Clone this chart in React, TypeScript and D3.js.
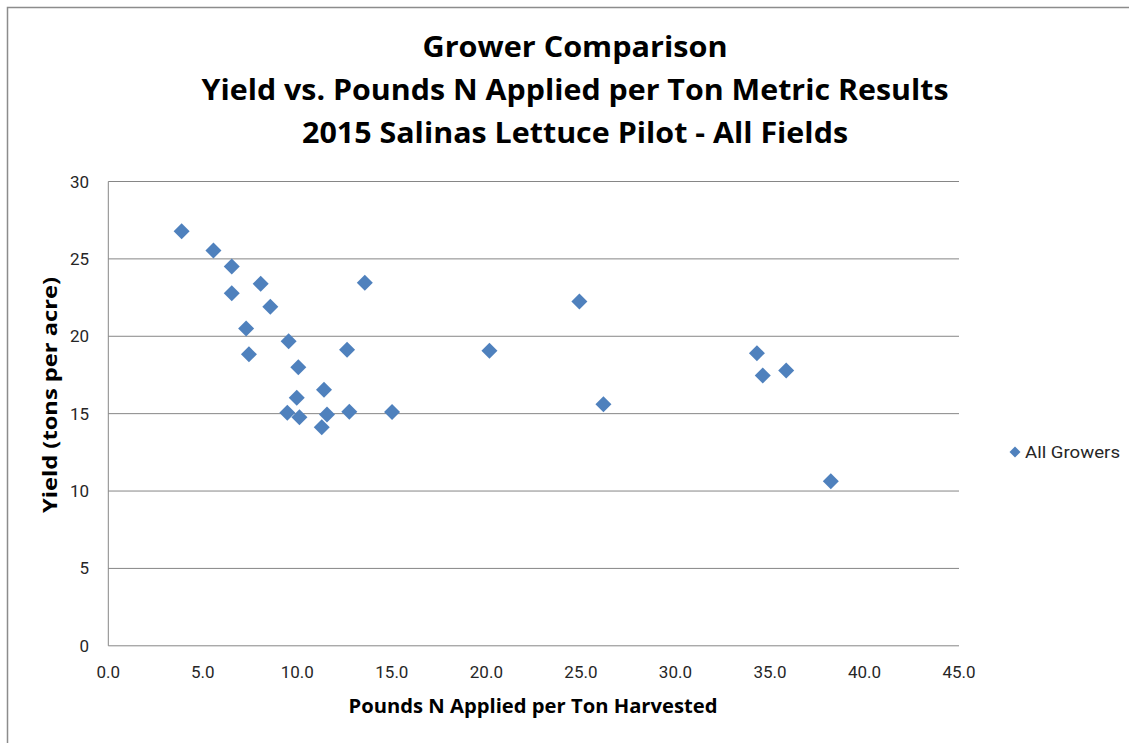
import React from "react";
import * as d3 from "d3";

const titleLines = [
  "Grower Comparison",
  "Yield vs. Pounds N Applied per Ton Metric Results",
  "2015 Salinas Lettuce Pilot - All Fields",
];
const xLabel = "Pounds N Applied per Ton Harvested";
const yLabel = "Yield (tons per acre)";
const seriesName = "All Growers";

const xValues = [3.88, 5.56, 6.53, 6.53, 8.06, 8.57, 7.29, 7.44, 9.54, 10.05, 9.97, 9.47, 10.11, 11.41, 11.57, 11.29, 12.63, 12.75, 13.57, 15.01, 20.16, 24.92, 26.19, 34.31, 34.62, 35.86, 38.22];
const yValues = [26.78, 25.54, 24.5, 22.78, 23.39, 21.9, 20.5, 18.83, 19.68, 17.99, 16.03, 15.06, 14.76, 16.55, 14.94, 14.12, 19.13, 15.13, 23.45, 15.1, 19.06, 22.25, 15.6, 18.91, 17.47, 17.79, 10.63];
const xTicks = [0, 5, 10, 15, 20, 25, 30, 35, 40, 45];
const yTicks = [0, 5, 10, 15, 20, 25, 30];

const W = 1129;
const H = 743;
const plot = { left: 108.3, right: 959, top: 181.5, bottom: 645.8 };
const blue = "#4F81BD";
const grid = "#868686";
const font = "'Liberation Sans Narrow', 'Roboto', 'Liberation Sans', sans-serif";
const boldFont = "'Open Sans', 'Liberation Sans', sans-serif";

export default function App() {
  const x = d3.scaleLinear().domain([0, 45]).range([plot.left, plot.right]);
  const y = d3.scaleLinear().domain([0, 30]).range([plot.bottom, plot.top]);
  const diamond = (cx: number, cy: number, r: number) =>
    `M${cx},${cy - r}L${cx + r},${cy}L${cx},${cy + r}L${cx - r},${cy}Z`;
  const points = xValues.map((v, i) => ({ x: v, y: yValues[i] }));
  const titleWidths = [305, 747, 546];

  return (
    <svg
      width={W}
      height={H}
      style={{ position: "absolute", left: 0, top: 0, background: "#fff" }}
    >
      <rect x={0} y={0} width={W} height={H} fill="#fff" />
      <rect x={7.5} y={7.5} width={W + 20} height={H + 20} fill="none" stroke="#8c8c8c" strokeWidth={1.5} />
      {titleLines.map((t, i) => (
        <text
          key={i}
          x={575}
          y={57 + i * 43}
          textAnchor="middle"
          fontFamily={boldFont}
          fontWeight="bold"
          fontSize={29}
          fill="#000"
          textLength={titleWidths[i]}
          lengthAdjust="spacingAndGlyphs"
        >
          {t}
        </text>
      ))}
      {yTicks.map((t) => (
        <line key={"g" + t} x1={plot.left} x2={plot.right} y1={y(t)} y2={y(t)} stroke={grid} strokeWidth={1} />
      ))}
      <line x1={plot.left} x2={plot.left} y1={plot.top} y2={plot.bottom} stroke={grid} strokeWidth={1} />
      {yTicks.map((t) => (
        <text
          key={"yt" + t}
          x={89}
          y={y(t) + 6}
          textAnchor="end"
          fontFamily={font}
          fontSize={17}
          fill="#262626"
        >
          {t}
        </text>
      ))}
      {xTicks.map((t) => (
        <text
          key={"xt" + t}
          x={x(t)}
          y={678}
          textAnchor="middle"
          fontFamily={font}
          fontSize={17}
          fill="#262626"
        >
          {d3.format(".1f")(t)}
        </text>
      ))}
      <text
        x={533}
        y={713}
        textAnchor="middle"
        fontFamily={boldFont}
        fontWeight="bold"
        fontSize={20}
        textLength={369}
        lengthAdjust="spacingAndGlyphs"
      >
        {xLabel}
      </text>
      <text
        transform={`translate(57,395) rotate(-90)`}
        textAnchor="middle"
        fontFamily={boldFont}
        fontWeight="bold"
        fontSize={20}
        textLength={236}
        lengthAdjust="spacingAndGlyphs"
      >
        {yLabel}
      </text>
      {points.map((p, i) => (
        <path key={i} d={diamond(x(p.x), y(p.y), 8)} fill={blue} />
      ))}
      <path d={diamond(1015, 452, 5.5)} fill={blue} />
      <text
        x={1025}
        y={458}
        fontFamily={font}
        fontSize={17}
        fill="#262626"
        textLength={95}
        lengthAdjust="spacingAndGlyphs"
      >
        {seriesName}
      </text>
    </svg>
  );
}
